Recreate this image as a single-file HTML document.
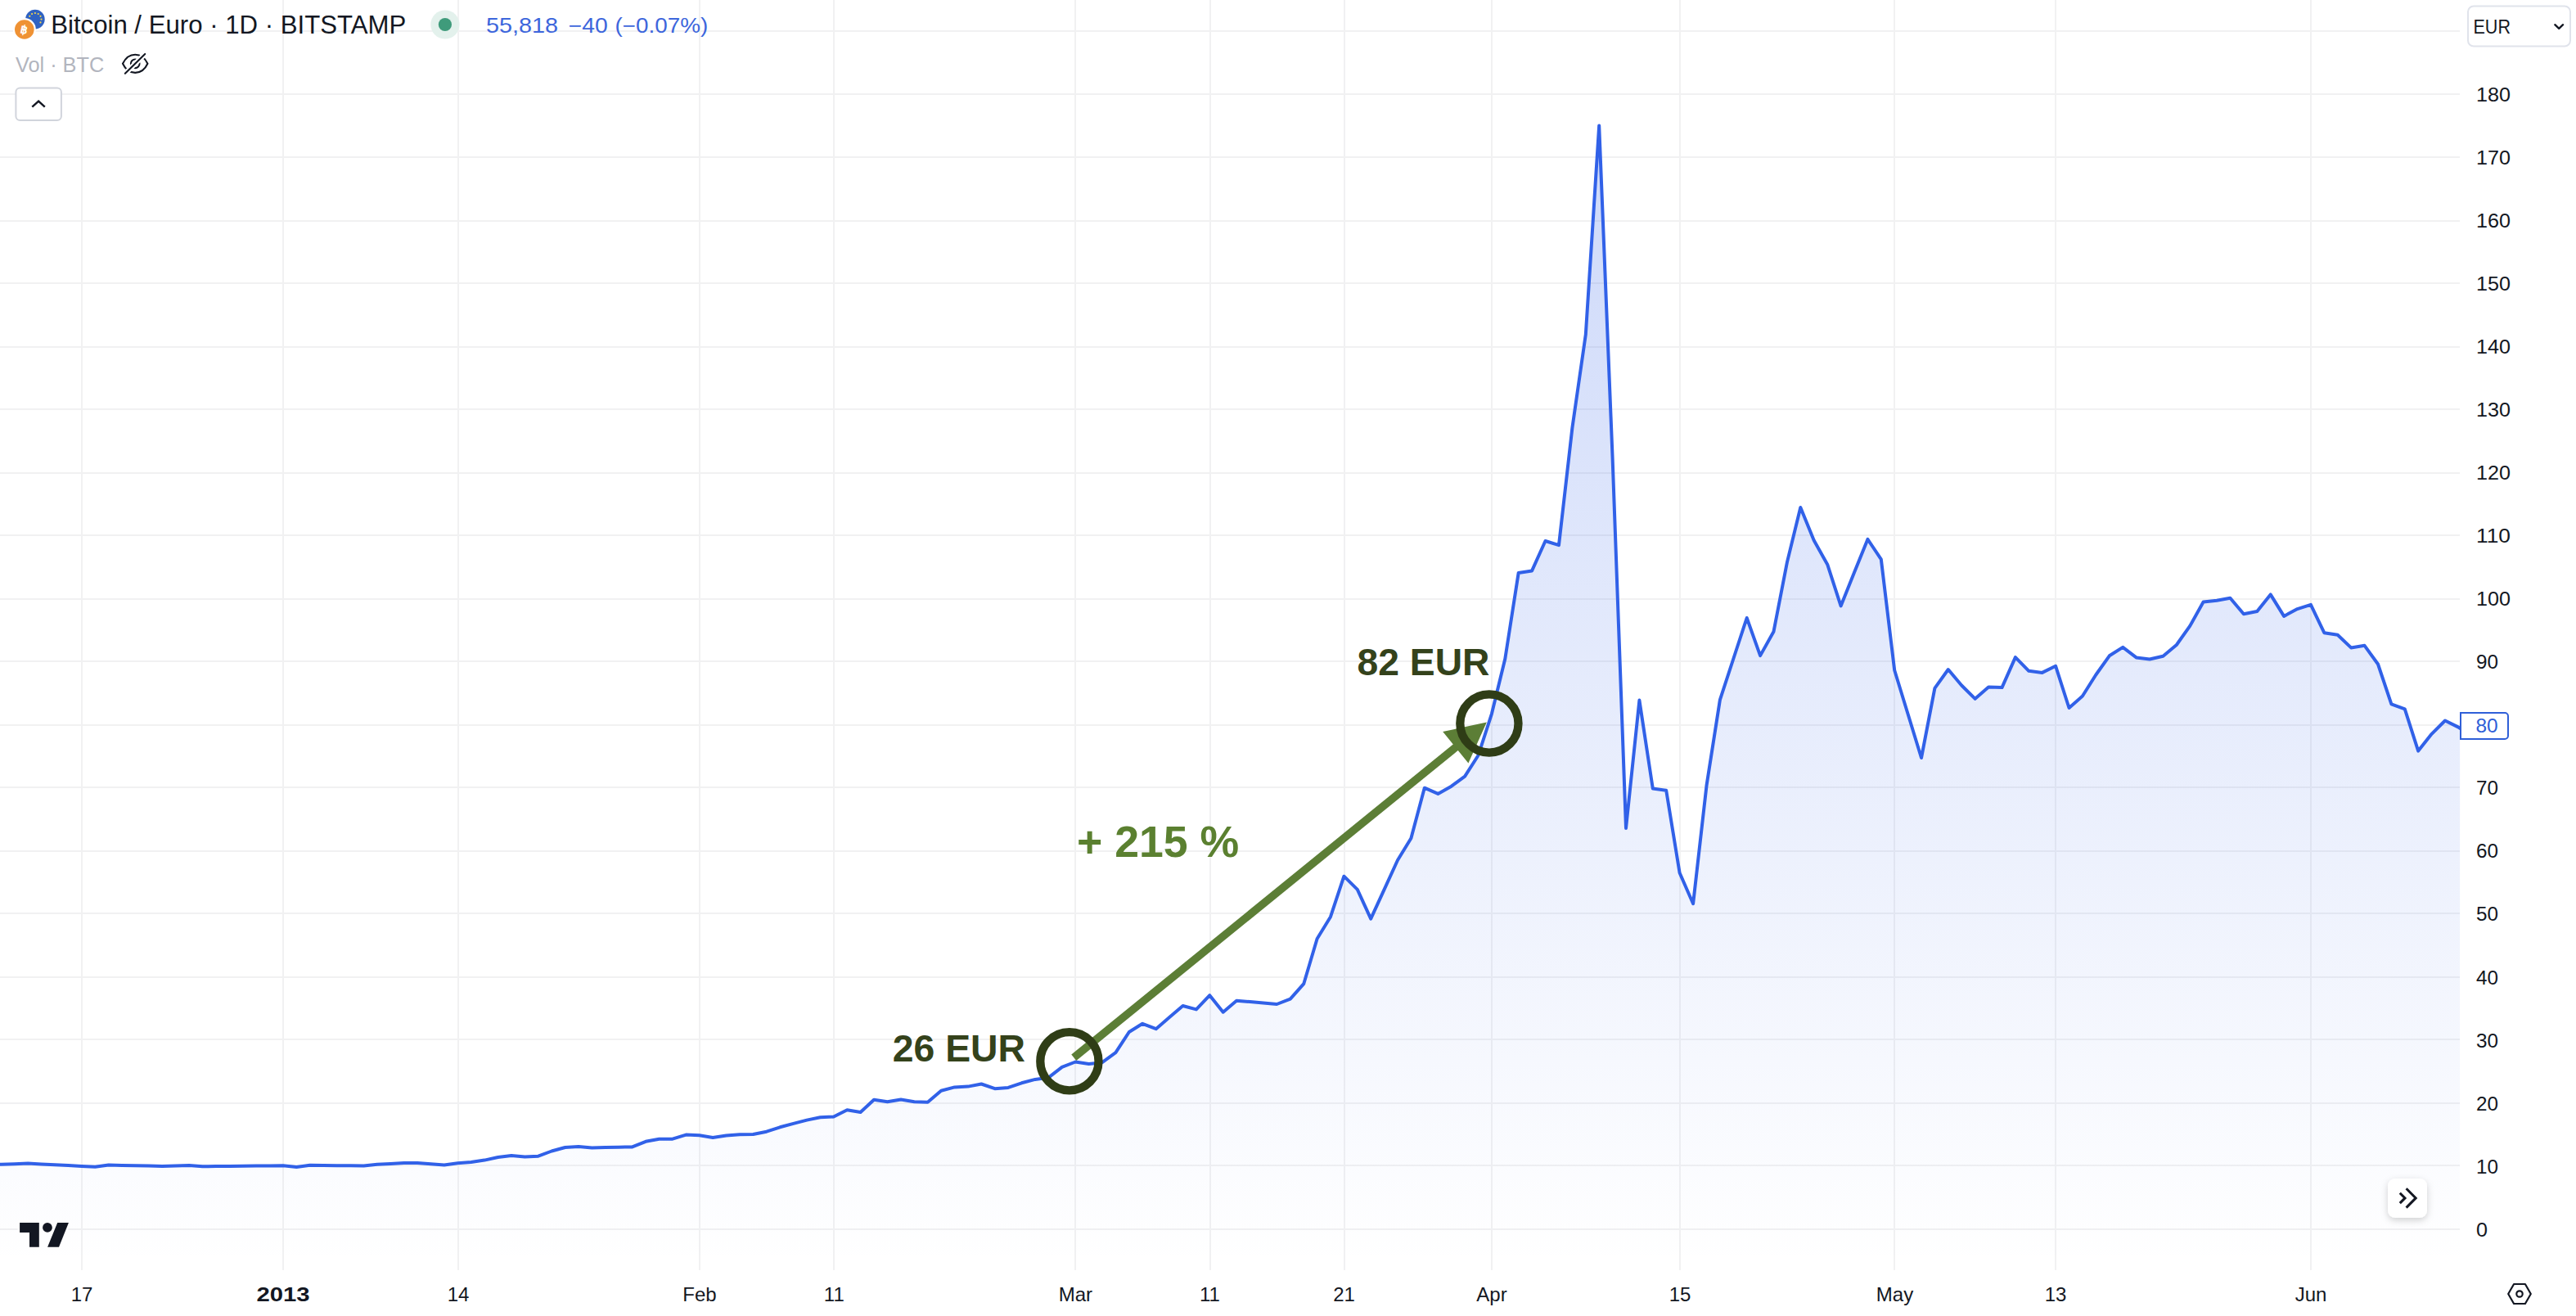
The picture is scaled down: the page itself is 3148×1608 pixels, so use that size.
<!DOCTYPE html>
<html lang="en"><head><meta charset="utf-8"><title>Bitcoin / Euro chart</title>
<style>
html,body{margin:0;padding:0;background:#fff;}
body{width:3148px;height:1608px;overflow:hidden;position:relative;font-family:"Liberation Sans",Arial,sans-serif;}
svg{position:absolute;left:0;top:0;display:block}
text{font-family:"Liberation Sans",Arial,sans-serif;}
.ax{font-size:24px;fill:#131722}
.ann{font-weight:bold}
</style></head><body>
<svg width="3148" height="1608" viewBox="0 0 3148 1608">
<defs>
<linearGradient id="ag" gradientUnits="userSpaceOnUse" x1="0" y1="0" x2="0" y2="1545">
<stop offset="0" stop-color="#2f5fe8" stop-opacity="0.27"/>
<stop offset="1" stop-color="#2f5fe8" stop-opacity="0.0"/>
</linearGradient>
<clipPath id="pc"><rect x="0" y="0" width="3006.2" height="1552"/></clipPath>
<filter id="sh" x="-30%" y="-30%" width="160%" height="170%"><feDropShadow dx="0" dy="3" stdDeviation="4" flood-color="#000" flood-opacity="0.18"/></filter>
</defs>
<g stroke="#f1f1f2" stroke-width="2" fill="none"><line x1="0" y1="1502.0" x2="3006" y2="1502.0"/><line x1="0" y1="1424.0" x2="3006" y2="1424.0"/><line x1="0" y1="1348.0" x2="3006" y2="1348.0"/><line x1="0" y1="1270.0" x2="3006" y2="1270.0"/><line x1="0" y1="1194.0" x2="3006" y2="1194.0"/><line x1="0" y1="1116.0" x2="3006" y2="1116.0"/><line x1="0" y1="1040.0" x2="3006" y2="1040.0"/><line x1="0" y1="962.0" x2="3006" y2="962.0"/><line x1="0" y1="886.0" x2="3006" y2="886.0"/><line x1="0" y1="808.0" x2="3006" y2="808.0"/><line x1="0" y1="732.0" x2="3006" y2="732.0"/><line x1="0" y1="654.0" x2="3006" y2="654.0"/><line x1="0" y1="578.0" x2="3006" y2="578.0"/><line x1="0" y1="500.0" x2="3006" y2="500.0"/><line x1="0" y1="424.0" x2="3006" y2="424.0"/><line x1="0" y1="346.0" x2="3006" y2="346.0"/><line x1="0" y1="270.0" x2="3006" y2="270.0"/><line x1="0" y1="192.0" x2="3006" y2="192.0"/><line x1="0" y1="115.0" x2="3006" y2="115.0"/><line x1="0" y1="38.0" x2="3006" y2="38.0"/><line x1="100" y1="0" x2="100" y2="1552"/><line x1="346" y1="0" x2="346" y2="1552"/><line x1="560" y1="0" x2="560" y2="1552"/><line x1="855" y1="0" x2="855" y2="1552"/><line x1="1019" y1="0" x2="1019" y2="1552"/><line x1="1314" y1="0" x2="1314" y2="1552"/><line x1="1479" y1="0" x2="1479" y2="1552"/><line x1="1643" y1="0" x2="1643" y2="1552"/><line x1="1823" y1="0" x2="1823" y2="1552"/><line x1="2053" y1="0" x2="2053" y2="1552"/><line x1="2315" y1="0" x2="2315" y2="1552"/><line x1="2512" y1="0" x2="2512" y2="1552"/><line x1="2824" y1="0" x2="2824" y2="1552"/></g>
<g clip-path="url(#pc)"><path d="M-15.0,1423.0 L1.4,1422.8 L17.8,1422.2 L34.2,1421.5 L50.6,1422.4 L67.0,1423.2 L83.4,1424.1 L99.8,1424.9 L116.3,1425.8 L132.7,1423.5 L149.1,1423.9 L165.5,1424.2 L181.9,1424.6 L198.3,1425.0 L214.7,1424.5 L231.1,1424.0 L247.5,1425.3 L263.9,1425.1 L280.4,1425.0 L296.8,1424.8 L313.2,1424.6 L329.6,1424.5 L346.0,1424.3 L362.4,1426.0 L378.8,1423.8 L395.2,1424.0 L411.6,1424.2 L428.1,1424.3 L444.5,1424.5 L460.9,1422.8 L477.3,1421.9 L493.7,1421.0 L510.1,1421.0 L526.5,1422.2 L542.9,1423.5 L559.3,1421.2 L575.7,1420.0 L592.1,1417.6 L608.6,1414.0 L625.0,1412.0 L641.4,1413.5 L657.8,1412.7 L674.2,1406.5 L690.6,1402.0 L707.0,1400.9 L723.4,1402.4 L739.8,1402.1 L756.2,1401.7 L772.7,1401.4 L789.1,1394.8 L805.5,1391.7 L821.9,1391.7 L838.3,1386.6 L854.7,1387.3 L871.1,1390.0 L887.5,1387.6 L903.9,1386.3 L920.4,1386.0 L936.8,1382.7 L953.2,1377.3 L969.6,1372.9 L986.0,1368.6 L1002.4,1365.3 L1018.8,1364.5 L1035.2,1356.3 L1051.6,1359.0 L1068.0,1343.8 L1084.5,1346.3 L1100.9,1343.5 L1117.3,1346.3 L1133.7,1346.8 L1150.1,1332.7 L1166.5,1328.4 L1182.9,1327.6 L1199.3,1324.5 L1215.7,1330.2 L1232.1,1328.9 L1248.5,1323.3 L1265.0,1318.9 L1281.4,1316.7 L1297.8,1303.9 L1314.2,1297.5 L1330.6,1300.0 L1347.0,1298.2 L1363.4,1286.2 L1379.8,1261.0 L1396.2,1250.8 L1412.7,1257.2 L1429.1,1243.1 L1445.5,1229.0 L1461.9,1233.4 L1478.3,1216.2 L1494.7,1236.7 L1511.1,1222.7 L1527.5,1224.1 L1543.9,1225.6 L1560.3,1227.0 L1576.8,1220.6 L1593.2,1202.2 L1609.6,1147.0 L1626.0,1120.2 L1642.4,1070.7 L1658.8,1086.9 L1675.2,1122.7 L1691.6,1086.8 L1708.0,1051.0 L1724.4,1024.2 L1740.8,962.7 L1757.3,969.9 L1773.7,960.7 L1790.1,948.6 L1806.5,923.0 L1822.9,872.3 L1839.3,805.0 L1855.7,699.9 L1872.1,697.4 L1888.5,661.0 L1905.0,666.1 L1921.4,522.7 L1937.8,408.8 L1954.2,153.4 L1970.6,560.0 L1987.0,1012.0 L2003.4,855.6 L2019.8,963.5 L2036.2,965.8 L2052.6,1066.5 L2069.1,1104.2 L2085.5,959.9 L2101.9,855.1 L2118.3,805.0 L2134.7,755.0 L2151.1,801.1 L2167.5,771.7 L2183.9,687.1 L2200.3,620.0 L2216.7,660.2 L2233.2,689.7 L2249.6,740.4 L2266.0,699.6 L2282.4,658.9 L2298.8,683.3 L2315.2,819.0 L2331.6,872.5 L2348.0,926.0 L2364.4,840.8 L2380.8,818.0 L2397.2,837.5 L2413.7,853.8 L2430.1,839.5 L2446.5,840.1 L2462.9,803.1 L2479.3,819.8 L2495.7,821.9 L2512.1,813.8 L2528.5,865.0 L2544.9,850.5 L2561.3,824.5 L2577.8,801.3 L2594.2,790.9 L2610.6,803.4 L2627.0,805.5 L2643.4,801.8 L2659.8,788.0 L2676.2,764.9 L2692.6,735.5 L2709.0,733.7 L2725.4,730.8 L2741.9,750.3 L2758.3,747.0 L2774.7,726.4 L2791.1,752.9 L2807.5,744.1 L2823.9,738.9 L2840.3,773.2 L2856.7,775.8 L2873.1,791.4 L2889.6,788.8 L2906.0,811.5 L2922.4,860.4 L2938.8,866.3 L2955.2,917.6 L2971.6,896.8 L2988.0,880.5 L3004.4,888.6 L3006.5,890.1 L3006.5,1552 L-15.0,1552 Z" fill="url(#ag)"/>
<path d="M-15.0,1423.0 L1.4,1422.8 L17.8,1422.2 L34.2,1421.5 L50.6,1422.4 L67.0,1423.2 L83.4,1424.1 L99.8,1424.9 L116.3,1425.8 L132.7,1423.5 L149.1,1423.9 L165.5,1424.2 L181.9,1424.6 L198.3,1425.0 L214.7,1424.5 L231.1,1424.0 L247.5,1425.3 L263.9,1425.1 L280.4,1425.0 L296.8,1424.8 L313.2,1424.6 L329.6,1424.5 L346.0,1424.3 L362.4,1426.0 L378.8,1423.8 L395.2,1424.0 L411.6,1424.2 L428.1,1424.3 L444.5,1424.5 L460.9,1422.8 L477.3,1421.9 L493.7,1421.0 L510.1,1421.0 L526.5,1422.2 L542.9,1423.5 L559.3,1421.2 L575.7,1420.0 L592.1,1417.6 L608.6,1414.0 L625.0,1412.0 L641.4,1413.5 L657.8,1412.7 L674.2,1406.5 L690.6,1402.0 L707.0,1400.9 L723.4,1402.4 L739.8,1402.1 L756.2,1401.7 L772.7,1401.4 L789.1,1394.8 L805.5,1391.7 L821.9,1391.7 L838.3,1386.6 L854.7,1387.3 L871.1,1390.0 L887.5,1387.6 L903.9,1386.3 L920.4,1386.0 L936.8,1382.7 L953.2,1377.3 L969.6,1372.9 L986.0,1368.6 L1002.4,1365.3 L1018.8,1364.5 L1035.2,1356.3 L1051.6,1359.0 L1068.0,1343.8 L1084.5,1346.3 L1100.9,1343.5 L1117.3,1346.3 L1133.7,1346.8 L1150.1,1332.7 L1166.5,1328.4 L1182.9,1327.6 L1199.3,1324.5 L1215.7,1330.2 L1232.1,1328.9 L1248.5,1323.3 L1265.0,1318.9 L1281.4,1316.7 L1297.8,1303.9 L1314.2,1297.5 L1330.6,1300.0 L1347.0,1298.2 L1363.4,1286.2 L1379.8,1261.0 L1396.2,1250.8 L1412.7,1257.2 L1429.1,1243.1 L1445.5,1229.0 L1461.9,1233.4 L1478.3,1216.2 L1494.7,1236.7 L1511.1,1222.7 L1527.5,1224.1 L1543.9,1225.6 L1560.3,1227.0 L1576.8,1220.6 L1593.2,1202.2 L1609.6,1147.0 L1626.0,1120.2 L1642.4,1070.7 L1658.8,1086.9 L1675.2,1122.7 L1691.6,1086.8 L1708.0,1051.0 L1724.4,1024.2 L1740.8,962.7 L1757.3,969.9 L1773.7,960.7 L1790.1,948.6 L1806.5,923.0 L1822.9,872.3 L1839.3,805.0 L1855.7,699.9 L1872.1,697.4 L1888.5,661.0 L1905.0,666.1 L1921.4,522.7 L1937.8,408.8 L1954.2,153.4 L1970.6,560.0 L1987.0,1012.0 L2003.4,855.6 L2019.8,963.5 L2036.2,965.8 L2052.6,1066.5 L2069.1,1104.2 L2085.5,959.9 L2101.9,855.1 L2118.3,805.0 L2134.7,755.0 L2151.1,801.1 L2167.5,771.7 L2183.9,687.1 L2200.3,620.0 L2216.7,660.2 L2233.2,689.7 L2249.6,740.4 L2266.0,699.6 L2282.4,658.9 L2298.8,683.3 L2315.2,819.0 L2331.6,872.5 L2348.0,926.0 L2364.4,840.8 L2380.8,818.0 L2397.2,837.5 L2413.7,853.8 L2430.1,839.5 L2446.5,840.1 L2462.9,803.1 L2479.3,819.8 L2495.7,821.9 L2512.1,813.8 L2528.5,865.0 L2544.9,850.5 L2561.3,824.5 L2577.8,801.3 L2594.2,790.9 L2610.6,803.4 L2627.0,805.5 L2643.4,801.8 L2659.8,788.0 L2676.2,764.9 L2692.6,735.5 L2709.0,733.7 L2725.4,730.8 L2741.9,750.3 L2758.3,747.0 L2774.7,726.4 L2791.1,752.9 L2807.5,744.1 L2823.9,738.9 L2840.3,773.2 L2856.7,775.8 L2873.1,791.4 L2889.6,788.8 L2906.0,811.5 L2922.4,860.4 L2938.8,866.3 L2955.2,917.6 L2971.6,896.8 L2988.0,880.5 L3004.4,888.6 L3006.5,890.1" fill="none" stroke="#3161e8" stroke-width="4" stroke-linejoin="round" stroke-linecap="round"/></g>
<line x1="1312.3" y1="1292.2" x2="1780.3" y2="912.0" stroke="#5c7e36" stroke-width="9.6"/>
<polygon points="1816.8,882.4 1794.4,932.5 1763.2,894.1" fill="#5c7e36"/>
<circle cx="1306.9" cy="1296.7" r="35.6" fill="none" stroke="#2f3d16" stroke-width="10.3"/>
<circle cx="1819.9" cy="884" r="35.6" fill="none" stroke="#2f3d16" stroke-width="10.3"/>
<text class="ann" x="1090.8" y="1297.4" font-size="46.5" fill="#34421b" textLength="162.2" lengthAdjust="spacingAndGlyphs">26 EUR</text>
<text class="ann" x="1658.6" y="825.3" font-size="46.5" fill="#34421b" textLength="161.8" lengthAdjust="spacingAndGlyphs">82 EUR</text>
<text class="ann" x="1316" y="1047" font-size="54" fill="#5b8030" textLength="198" lengthAdjust="spacingAndGlyphs">+ 215 %</text>
<text class="ax" x="3026" y="1510.7" textLength="14" lengthAdjust="spacingAndGlyphs">0</text><text class="ax" x="3026" y="1433.6" textLength="27" lengthAdjust="spacingAndGlyphs">10</text><text class="ax" x="3026" y="1356.6" textLength="27" lengthAdjust="spacingAndGlyphs">20</text><text class="ax" x="3026" y="1279.5" textLength="27" lengthAdjust="spacingAndGlyphs">30</text><text class="ax" x="3026" y="1202.5" textLength="27" lengthAdjust="spacingAndGlyphs">40</text><text class="ax" x="3026" y="1125.4" textLength="27" lengthAdjust="spacingAndGlyphs">50</text><text class="ax" x="3026" y="1048.4" textLength="27" lengthAdjust="spacingAndGlyphs">60</text><text class="ax" x="3026" y="971.3" textLength="27" lengthAdjust="spacingAndGlyphs">70</text><text class="ax" x="3026" y="894.3" textLength="27" lengthAdjust="spacingAndGlyphs">80</text><text class="ax" x="3026" y="817.2" textLength="27" lengthAdjust="spacingAndGlyphs">90</text><text class="ax" x="3026" y="740.1" textLength="42" lengthAdjust="spacingAndGlyphs">100</text><text class="ax" x="3026" y="663.1" textLength="42" lengthAdjust="spacingAndGlyphs">110</text><text class="ax" x="3026" y="586.0" textLength="42" lengthAdjust="spacingAndGlyphs">120</text><text class="ax" x="3026" y="509.0" textLength="42" lengthAdjust="spacingAndGlyphs">130</text><text class="ax" x="3026" y="431.9" textLength="42" lengthAdjust="spacingAndGlyphs">140</text><text class="ax" x="3026" y="354.9" textLength="42" lengthAdjust="spacingAndGlyphs">150</text><text class="ax" x="3026" y="277.8" textLength="42" lengthAdjust="spacingAndGlyphs">160</text><text class="ax" x="3026" y="200.7" textLength="42" lengthAdjust="spacingAndGlyphs">170</text><text class="ax" x="3026" y="123.7" textLength="42" lengthAdjust="spacingAndGlyphs">180</text>
<text class="ax" x="100" y="1590" text-anchor="middle">17</text><text class="ax" x="346" y="1590" text-anchor="middle" font-weight="bold" textLength="65" lengthAdjust="spacingAndGlyphs">2013</text><text class="ax" x="560" y="1590" text-anchor="middle">14</text><text class="ax" x="855" y="1590" text-anchor="middle">Feb</text><text class="ax" x="1019.3" y="1590" text-anchor="middle">11</text><text class="ax" x="1314.4" y="1590" text-anchor="middle">Mar</text><text class="ax" x="1478.5" y="1590" text-anchor="middle">11</text><text class="ax" x="1642.5" y="1590" text-anchor="middle">21</text><text class="ax" x="1823" y="1590" text-anchor="middle">Apr</text><text class="ax" x="2053" y="1590" text-anchor="middle">15</text><text class="ax" x="2315.5" y="1590" text-anchor="middle">May</text><text class="ax" x="2512" y="1590" text-anchor="middle">13</text><text class="ax" x="2824" y="1590" text-anchor="middle">Jun</text>
<path d="M3007,871 H3061 a4,4 0 0 1 4,4 V899 a4,4 0 0 1 -4,4 H3007 Z" fill="#fff" stroke="#2f5fd8" stroke-width="2"/><text class="ax" x="3025.4" y="895.1" style="fill:#2f5fd8" textLength="27.2" lengthAdjust="spacingAndGlyphs">80</text>
<rect x="3016" y="7.5" width="125" height="49" rx="7" fill="#fff" stroke="#e0e3eb" stroke-width="2"/><text class="ax" x="3022.5" y="41" textLength="45.5" lengthAdjust="spacingAndGlyphs">EUR</text><path d="M3122.3,30.2 L3127.2,34.8 L3132.1,30.2" fill="none" stroke="#131722" stroke-width="2.4" stroke-linecap="round" stroke-linejoin="round"/>
<rect x="2918" y="1440" width="48" height="48" rx="9" fill="#fff" filter="url(#sh)"/><path d="M2932.8,1457.7 L2939,1463.9 L2932.8,1470.1 M2940.6,1452.2 L2952.2,1463.9 L2940.6,1475.6" fill="none" stroke="#131722" stroke-width="3" stroke-linecap="butt" stroke-linejoin="miter"/>
<polygon points="3092.8,1581.0 3085.9,1593.0 3072.1,1593.0 3065.2,1581.0 3072.1,1569.0 3085.9,1569.0" fill="none" stroke="#131722" stroke-width="2.2" stroke-linejoin="round"/><circle cx="3079" cy="1581" r="3.7" fill="none" stroke="#131722" stroke-width="2.2"/>
<g fill="#131722" stroke="#fff" stroke-width="5" stroke-linejoin="round" paint-order="stroke"><path d="M24.1,1494.1 H47.8 V1523.7 H36 V1505.9 H24.1 Z"/><circle cx="57.95" cy="1499.9" r="5.9"/><path d="M70.2,1494.1 H83.9 L72,1523.7 H58.1 Z"/></g>
<circle cx="42.9" cy="23.6" r="11.8" fill="#2f62c2"/><circle cx="36.3" cy="19.8" r="1.1" fill="#f5d54a"/><circle cx="39.1" cy="17.0" r="1.1" fill="#f5d54a"/><circle cx="42.9" cy="16.0" r="1.1" fill="#f5d54a"/><circle cx="46.7" cy="17.0" r="1.1" fill="#f5d54a"/><circle cx="49.5" cy="19.8" r="1.1" fill="#f5d54a"/><circle cx="50.5" cy="23.6" r="1.1" fill="#f5d54a"/><circle cx="49.5" cy="27.4" r="1.1" fill="#f5d54a"/><circle cx="29.8" cy="36" r="14" fill="#fff"/><circle cx="29.8" cy="36" r="11.8" fill="#ef9234"/><text x="29.8" y="41" text-anchor="middle" font-size="14" font-weight="bold" fill="#fff" transform="rotate(12 29.8 36)">&#x0E3F;</text>
<text x="62.2" y="41.4" font-size="31" fill="#131722" textLength="434" lengthAdjust="spacingAndGlyphs">Bitcoin / Euro · 1D · BITSTAMP</text>
<circle cx="543.9" cy="30" r="17.6" fill="#e3f1ec"/><circle cx="543.9" cy="30" r="8.1" fill="#3f9b7b"/>
<text x="594" y="39.7" font-size="25" fill="#3d66dc" textLength="88" lengthAdjust="spacingAndGlyphs">55,818</text><text x="694.8" y="39.7" font-size="25" fill="#3d66dc" textLength="48" lengthAdjust="spacingAndGlyphs">−40</text><text x="751.6" y="39.7" font-size="25" fill="#3d66dc" textLength="113.6" lengthAdjust="spacingAndGlyphs">(−0.07%)</text>
<text x="18.9" y="87.6" font-size="26" fill="#b2b5be" textLength="108.4" lengthAdjust="spacingAndGlyphs">Vol · BTC</text>
<g fill="none" stroke="#131722" stroke-width="2.1" stroke-linecap="round"><path d="M150,77.8 C157,63 173.5,63 180.4,77.8 C173.5,92.6 157,92.6 150,77.8 Z"/><circle cx="165.2" cy="77.8" r="5.3"/><line x1="153.6" y1="89.2" x2="176.6" y2="66.5" stroke="#fff" stroke-width="6.4" stroke-linecap="butt"/><line x1="152.9" y1="89.8" x2="177.2" y2="65.9"/></g>
<rect x="19.4" y="107.5" width="55.5" height="39.5" rx="5" fill="#fff" stroke="#d1d4dc" stroke-width="2"/><path d="M39.3,130.6 L47.1,123.6 L54.8,130.6" fill="none" stroke="#131722" stroke-width="2.5" stroke-linecap="butt" stroke-linejoin="miter"/>
</svg>
</body></html>
